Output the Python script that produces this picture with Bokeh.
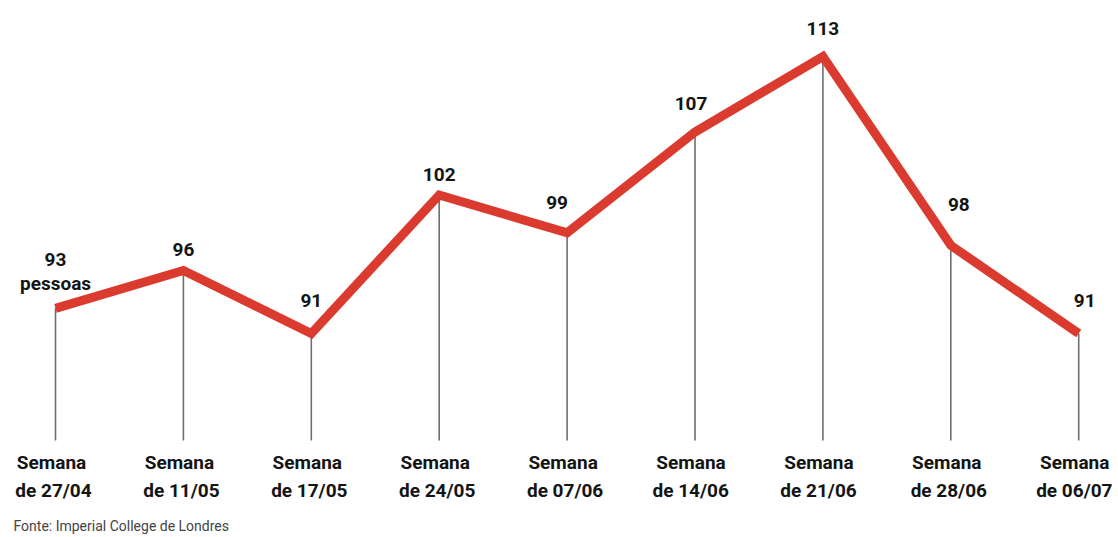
from bokeh.plotting import figure
from bokeh.models import Range1d, Label
from bokeh.embed import file_html
from bokeh.resources import INLINE

weeks_top = ["Semana"] * 9
weeks_bottom = ["de 27/04", "de 11/05", "de 17/05", "de 24/05", "de 07/06",
                "de  14/06", "de  21/06", "de 28/06", "de  06/07"]
people = [93, 96, 91, 102, 99, 107, 113, 98, 91]
value_labels = ["93", "96", "91", "102", "99", "107", "113", "98", "91"]

# layout (label offsets above points, in px)
label_dy = [49, 21, 33, 21, 30, 29, 28, 41, 33]
label_dx = [0, 0, 0, 0, -10, -4, 0, 8, 6]

W, H = 1118, 537
step = 127.9
x0 = 55
px_per_unit = 12.59
y_start = 91 - (H - 333) / px_per_unit
y_end = y_start + H / px_per_unit

p = figure(width=W, height=H, output_backend="svg", toolbar_location=None,
           x_range=Range1d(-x0 / step, (W - x0) / step),
           y_range=Range1d(y_start, y_end), min_border=0)
p.axis.visible = False
p.grid.visible = False
p.outline_line_color = None
p.background_fill_color = "white"
p.border_fill_color = "white"

xs = list(range(len(people)))
base = 91 - (440 - 333) / px_per_unit
p.segment(x0=xs, y0=[base] * len(xs), x1=xs, y1=people, line_color="#6f6f6f", line_width=1.6)
p.line(xs, people, line_color="#db3a2e", line_width=9, line_join="miter")

FONT = "Roboto"
TXT = "#141414"
for i, (v, t) in enumerate(zip(people, value_labels)):
    p.add_layout(Label(x=i, y=v, text=t, x_offset=label_dx[i], y_offset=label_dy[i],
                       text_align="center", text_baseline="middle",
                       text_font=FONT, text_font_style="bold",
                       text_font_size="19px", text_color=TXT))
p.add_layout(Label(x=0, y=people[0], text="pessoas", y_offset=25, x_offset=0,
                   text_align="center", text_baseline="middle",
                   text_font=FONT, text_font_style="bold",
                   text_font_size="19px", text_color=TXT))

for i in xs:
    p.add_layout(Label(x=i, y=H - 462, y_units="screen", text=weeks_top[i], x_offset=-4,
                       text_align="center", text_baseline="middle",
                       text_font=FONT, text_font_style="bold",
                       text_font_size="19px", text_color=TXT))
    p.add_layout(Label(x=i, y=H - 490, y_units="screen", text=weeks_bottom[i], x_offset=-2,
                       text_align="center", text_baseline="middle",
                       text_font=FONT, text_font_style="bold",
                       text_font_size="19px", text_color=TXT))

p.add_layout(Label(x=13, y=H - 525, x_units="screen", y_units="screen",
                   text="Fonte: Imperial College de Londres",
                   text_align="left", text_baseline="middle",
                   text_font=FONT, text_font_size="14px", text_color="#444444"))

open("out.html", "w").write(file_html(p, INLINE))
